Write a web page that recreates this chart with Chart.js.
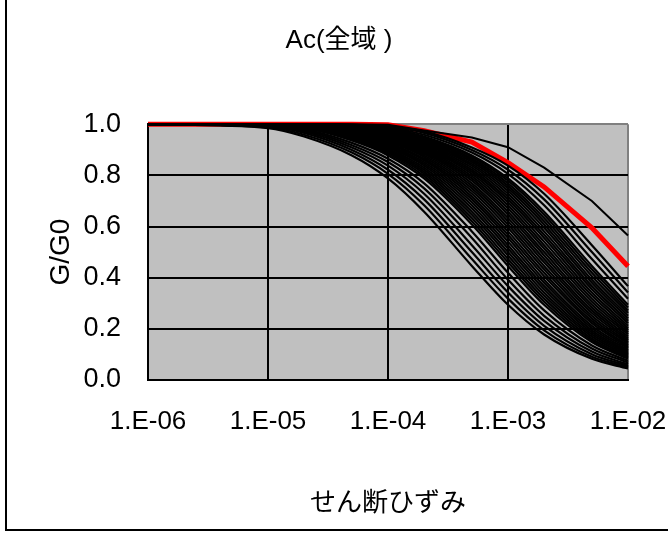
<!DOCTYPE html>
<html>
<head>
<meta charset="utf-8">
<script src="https://cdn.jsdelivr.net/npm/chart.js@4.4.0/dist/chart.umd.min.js"></script>
<style>
html, body { margin: 0; padding: 0; background: #fff; }
#wrap { width: 668px; height: 533px; }
</style>
</head>
<body>
<div id="wrap"><canvas id="ggChart" width="668" height="533"></canvas></div>
<script>
// せん断ひずみ (x) の読み取り点
var strain = [1e-6, 1e-5, 2e-5, 5e-5, 1e-4, 2e-4, 5e-4, 1e-3, 2e-3, 5e-3, 1e-2];

// 軸の目盛
var xTicks = [1e-6, 1e-5, 1e-4, 1e-3, 1e-2];
var xTickLabels = ['1.E-06', '1.E-05', '1.E-04', '1.E-03', '1.E-02'];
var yTicks = [0, 0.2, 0.4, 0.6, 0.8, 1.0];

// 赤線 (太線)
var redCurve = [1, 1, 1, 1, 0.998, 0.975, 0.93, 0.85, 0.755, 0.595, 0.445];

// 一番上の細線
var upperCurve = [1, 1, 1, 1, 0.998, 0.975, 0.948, 0.91, 0.83, 0.70, 0.565];

// 黒線 G/G0 (下から上へ)
var curves = [
  [1, .985, .952, .878, .788, .658, .446, .294, .178, .083, .045],
  [1, .988, .959, .889, .806, .683, .473, .318, .194, .091, .050],
  [1, .990, .966, .899, .822, .706, .500, .342, .212, .101, .055],
  [1, .992, .972, .909, .838, .728, .527, .367, .231, .111, .061],
  [1, .993, .977, .918, .852, .749, .555, .392, .251, .123, .068],
  [1, .994, .981, .927, .865, .769, .581, .419, .272, .135, .075],
  [1, .995, .985, .936, .878, .788, .608, .446, .294, .148, .083],
  [1, .996, .987, .940, .884, .797, .621, .460, .306, .155, .087],
  [1, .996, .988, .944, .889, .806, .633, .473, .318, .162, .091],
  [1, .997, .989, .948, .894, .814, .646, .487, .330, .170, .096],
  [1, .997, .990, .952, .899, .822, .658, .500, .342, .178, .101],
  [1, .997, .991, .956, .904, .830, .671, .514, .355, .186, .106],
  [1, .998, .992, .959, .909, .838, .683, .527, .367, .194, .111],
  [1, .998, .993, .963, .914, .845, .695, .541, .380, .203, .117],
  [1, .998, .993, .966, .918, .852, .706, .555, .392, .212, .123],
  [1, .999, .994, .969, .923, .859, .717, .568, .406, .222, .129],
  [1, .999, .994, .972, .927, .865, .728, .581, .419, .231, .135],
  [1, 1, .995, .975, .932, .872, .739, .595, .433, .241, .142],
  [1, 1, .995, .977, .936, .878, .749, .608, .446, .251, .148],
  [1, 1, .996, .979, .940, .884, .759, .621, .460, .262, .155],
  [1, 1, .996, .981, .944, .889, .769, .633, .473, .272, .162],
  [1, 1, .997, .983, .948, .894, .779, .646, .487, .283, .170],
  [1, 1, .997, .985, .952, .899, .788, .658, .500, .294, .178],
  [1, 1, .997, .987, .956, .904, .797, .671, .514, .306, .186],
  [1, 1, .998, .988, .959, .909, .806, .683, .527, .318, .194],
  [1, 1, .998, .989, .963, .914, .814, .695, .541, .330, .203],
  [1, 1, .998, .990, .966, .918, .822, .706, .555, .342, .212],
  [1, 1, .999, .991, .969, .923, .830, .717, .568, .355, .222],
  [1, 1, .999, .992, .972, .927, .838, .728, .581, .367, .231],
  [1, 1, 1, .993, .975, .932, .845, .739, .595, .380, .241],
  [1, 1, 1, .993, .977, .936, .852, .749, .608, .392, .251],
  [1, 1, 1, .994, .979, .940, .859, .759, .621, .406, .262],
  [1, 1, 1, .994, .981, .944, .865, .769, .633, .419, .272],
  [1, 1, 1, .995, .983, .948, .872, .779, .646, .433, .283],
  [1, 1, 1, .995, .985, .952, .878, .788, .658, .446, .294],
  [1, 1, 1, .996, .988, .959, .889, .806, .683, .473, .318],
  [1, 1, 1, .997, .990, .966, .899, .822, .706, .500, .342],
  [1, 1, 1, .998, .992, .972, .909, .838, .728, .527, .367]
];

function toPoints(vals) {
  return vals.map(function (v, i) { return {x: strain[i], y: v}; });
}

var datasets = [];
curves.forEach(function (c) {
  datasets.push({
    data: toPoints(c),
    borderColor: '#000000',
    borderWidth: 2.2,
    pointRadius: 0,
    cubicInterpolationMode: 'monotone',
    clip: false
  });
});
datasets.push({
  data: toPoints(upperCurve),
  borderColor: '#000000',
  borderWidth: 2,
  pointRadius: 0,
  clip: false
});
datasets.push({
  data: toPoints(redCurve),
  borderColor: '#ff0000',
  borderWidth: 5,
  pointRadius: 0,
  clip: false
});

var fontLatin = '"Liberation Sans Narrow", "Liberation Sans", Arial, sans-serif';
var fontJa = '"Liberation Sans", "Noto Sans CJK JP", sans-serif';

// プロットエリアの灰色背景と外枠
var plotBg = {
  id: 'plotBg',
  beforeDraw: function (chart) {
    var a = chart.chartArea, ctx = chart.ctx;
    ctx.save();
    ctx.fillStyle = '#c0c0c0';
    ctx.fillRect(a.left, a.top, a.right - a.left, a.bottom - a.top);
    ctx.restore();
  },
  afterDraw: function (chart) {
    var ctx = chart.ctx;
    ctx.save();
    ctx.strokeStyle = '#000';
    ctx.lineWidth = 2;
    ctx.beginPath();
    ctx.moveTo(6, 0);
    ctx.lineTo(6, 530);
    ctx.lineTo(668, 530);
    ctx.stroke();
    ctx.restore();
  }
};

var chart = new Chart(document.getElementById('ggChart'), {
  type: 'line',
  data: {datasets: datasets},
  options: {
    responsive: false,
    animation: false,
    devicePixelRatio: 1,
    layout: {padding: {left: 10, right: 0, top: 0, bottom: 5}},
    plugins: {
      legend: {display: false},
      tooltip: {enabled: false},
      title: {
        display: true,
        text: 'Ac(全域 )',
        color: '#000',
        font: {family: fontJa, size: 26, weight: 'normal'},
        padding: {top: 25, bottom: 68}
      }
    },
    scales: {
      x: {
        type: 'logarithmic',
        min: 1e-6,
        max: 1e-2,
        afterBuildTicks: function (scale) {
          scale.ticks = xTicks.map(function (v) { return {value: v}; });
        },
        afterFit: function (scale) {
          scale.height = 148;
          scale.paddingRight = 40;
        },
        ticks: {
          autoSkip: false,
          maxRotation: 0,
          padding: 26,
          color: '#000',
          font: {family: fontLatin, size: 26},
          callback: function (v, i) { return xTickLabels[i]; }
        },
        grid: {
          drawTicks: false,
          lineWidth: 2,
          color: function (c) { return c.tick && c.tick.value === 1e-2 ? '#808080' : '#000'; }
        },
        border: {color: '#000', width: 2},
        title: {
          display: true,
          text: 'せん断ひずみ',
          color: '#000',
          font: {family: fontJa, size: 26, weight: 'normal'},
          padding: {bottom: 9}
        }
      },
      y: {
        min: 0,
        max: 1,
        afterBuildTicks: function (scale) {
          scale.ticks = yTicks.map(function (v) { return {value: v}; });
        },
        afterFit: function (scale) { scale.width = 138; },
        ticks: {
          padding: 27,
          color: '#000',
          font: {family: fontLatin, size: 27},
          callback: function (v) { return v.toFixed(1); }
        },
        grid: {
          drawTicks: false,
          lineWidth: 2,
          color: function (c) { return c.tick && c.tick.value === 1 ? '#808080' : '#000'; }
        },
        border: {color: '#000', width: 2},
        title: {
          display: true,
          text: 'G/G0',
          color: '#000',
          font: {family: fontLatin, size: 28, weight: 'normal'},
          padding: {top: 34}
        }
      }
    }
  },
  plugins: [plotBg]
});
</script>
</body>
</html>
